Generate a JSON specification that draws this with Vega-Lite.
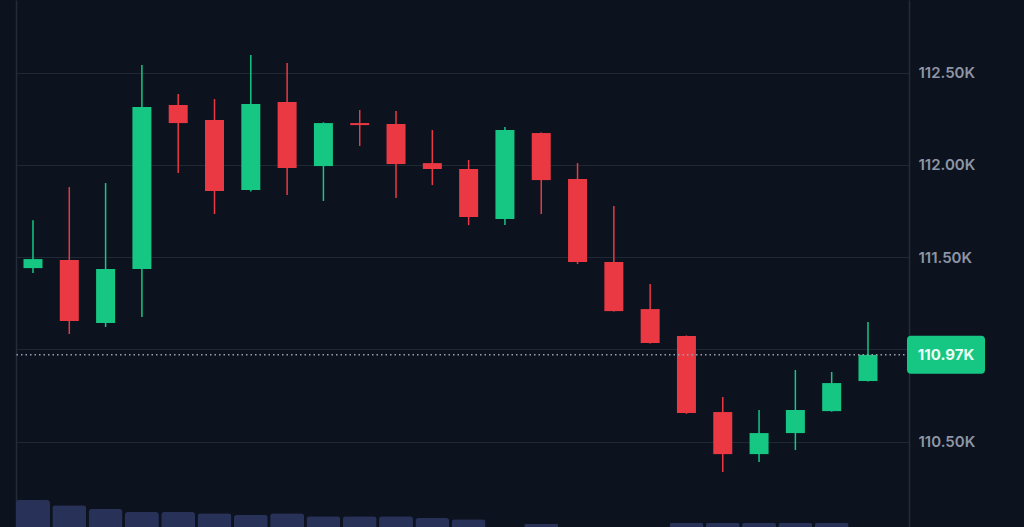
{
  "$schema": "https://vega.github.io/schema/vega-lite/v6.json",
  "width": 893,
  "height": 527,
  "autosize": "none",
  "padding": {"left": 16, "top": 0, "right": 115, "bottom": 0},
  "background": "#0c131f",
  "config": {"view": {"stroke": null}, "font": "Inter"},
  "datasets": {
    "candles": [
      {"i": 1, "open": 111440, "high": 111700, "low": 111413, "close": 111489, "vol": 102},
      {"i": 2, "open": 111484, "high": 111879, "low": 111083, "close": 111153, "vol": 83},
      {"i": 3, "open": 111142, "high": 111901, "low": 111121, "close": 111435, "vol": 68},
      {"i": 4, "open": 111435, "high": 112541, "low": 111175, "close": 112313, "vol": 57},
      {"i": 5, "open": 112324, "high": 112383, "low": 111955, "close": 112226, "vol": 57},
      {"i": 6, "open": 112243, "high": 112356, "low": 111733, "close": 111858, "vol": 52},
      {"i": 7, "open": 111863, "high": 112595, "low": 111855, "close": 112329, "vol": 46},
      {"i": 8, "open": 112340, "high": 112551, "low": 111836, "close": 111982, "vol": 52},
      {"i": 9, "open": 111993, "high": 112230, "low": 111804, "close": 112226, "vol": 41},
      {"i": 10, "open": 112226, "high": 112297, "low": 112102, "close": 112215, "vol": 41},
      {"i": 11, "open": 112221, "high": 112291, "low": 111820, "close": 112004, "vol": 41},
      {"i": 12, "open": 112009, "high": 112188, "low": 111890, "close": 111977, "vol": 34},
      {"i": 13, "open": 111977, "high": 112026, "low": 111673, "close": 111717, "vol": 29},
      {"i": 14, "open": 111706, "high": 112205, "low": 111673, "close": 112188, "vol": 0},
      {"i": 15, "open": 112172, "high": 112175, "low": 111733, "close": 111917, "vol": 11},
      {"i": 16, "open": 111923, "high": 112009, "low": 111462, "close": 111473, "vol": 0},
      {"i": 17, "open": 111473, "high": 111776, "low": 111205, "close": 111207, "vol": 0},
      {"i": 18, "open": 111218, "high": 111354, "low": 111032, "close": 111034, "vol": 0},
      {"i": 19, "open": 111072, "high": 111075, "low": 110650, "close": 110655, "vol": 15},
      {"i": 20, "open": 110660, "high": 110741, "low": 110335, "close": 110432, "vol": 15},
      {"i": 21, "open": 110432, "high": 110671, "low": 110389, "close": 110546, "vol": 15},
      {"i": 22, "open": 110546, "high": 110888, "low": 110454, "close": 110671, "vol": 15},
      {"i": 23, "open": 110665, "high": 110877, "low": 110662, "close": 110817, "vol": 15},
      {"i": 24, "open": 110828, "high": 111148, "low": 110826, "close": 110970, "vol": 0}
    ],
    "last": [{"price": 110970, "label": "110.97K"}]
  },
  "layer": [
    {
      "data": {"name": "candles"},
      "mark": {"type": "bar", "width": 34, "color": "#283157", "cornerRadiusTopLeft": 3, "cornerRadiusTopRight": 3},
      "encoding": {
        "x": {"field": "i", "type": "quantitative", "scale": {"domain": [0.532, 25.13], "nice": false, "zero": false, "padding": 0}, "axis": null},
        "y": {"field": "vol", "type": "quantitative", "scale": {"domain": [0, 2000], "nice": false},
              "axis": {"orient": "left", "labels": false, "ticks": false, "grid": false, "domain": true, "domainColor": "#232c38", "domainWidth": 1.5, "title": null}}
      }
    },
    {
      "layer": [
        {
          "data": {"name": "candles"},
          "mark": {"type": "rule", "strokeWidth": 1.5},
          "encoding": {
            "x": {"field": "i", "type": "quantitative", "scale": {"domain": [0.532, 25.13], "nice": false, "zero": false, "padding": 0}, "axis": null},
            "y": {"field": "low", "type": "quantitative", "scale": {"domain": [110037, 112893], "nice": false, "zero": false, "padding": 0},
                  "axis": {"orient": "right", "values": [110500, 111000, 111500, 112000, 112500],
                           "labelExpr": "datum.value == 111000 ? '' : format(datum.value / 1000, '.2f') + 'K'",
                           "grid": true, "gridColor": "#1f2933", "gridWidth": 1,
                           "domain": true, "domainColor": "#232c38", "domainWidth": 1.5,
                           "ticks": false, "labelPadding": 9, "labelFont": "Inter", "labelFontSize": 15,
                           "labelFontWeight": 600, "labelColor": "#8f95a5", "title": null}},
            "y2": {"field": "high"},
            "color": {"condition": {"test": "datum.close >= datum.open", "value": "#16c784"}, "value": "#ea3943"}
          }
        },
        {
          "data": {"name": "candles"},
          "mark": {"type": "bar", "width": 19},
          "encoding": {
            "x": {"field": "i", "type": "quantitative"},
            "y": {"field": "open", "type": "quantitative"},
            "y2": {"field": "close"},
            "color": {"condition": {"test": "datum.close >= datum.open", "value": "#16c784"}, "value": "#ea3943"}
          }
        },
        {
          "data": {"name": "last"},
          "mark": {"type": "rule", "strokeDash": [1.5, 3], "strokeWidth": 1.5, "color": "#9aa0ad"},
          "encoding": {
            "y": {"field": "price", "type": "quantitative"}
          }
        },
        {
          "data": {"name": "last"},
          "mark": {"type": "point", "filled": true, "opacity": 1, "size": 6084, "color": "#16c784",
                   "shape": "M -0.897 -0.487 L 0.897 -0.487 Q 1 -0.487 1 -0.385 L 1 0.385 Q 1 0.487 0.897 0.487 L -0.897 0.487 Q -1 0.487 -1 0.385 L -1 -0.385 Q -1 -0.487 -0.897 -0.487 Z"},
          "encoding": {
            "x": {"value": {"expr": "width + 37"}},
            "y": {"field": "price", "type": "quantitative"}
          }
        },
        {
          "data": {"name": "last"},
          "mark": {"type": "text", "font": "Inter", "fontSize": 15, "fontWeight": 700, "color": "#ecfff5", "align": "center", "baseline": "middle"},
          "encoding": {
            "x": {"value": {"expr": "width + 37"}},
            "y": {"field": "price", "type": "quantitative"},
            "text": {"field": "label"}
          }
        }
      ]
    }
  ],
  "resolve": {"scale": {"y": "independent"}, "axis": {"y": "independent"}}
}
